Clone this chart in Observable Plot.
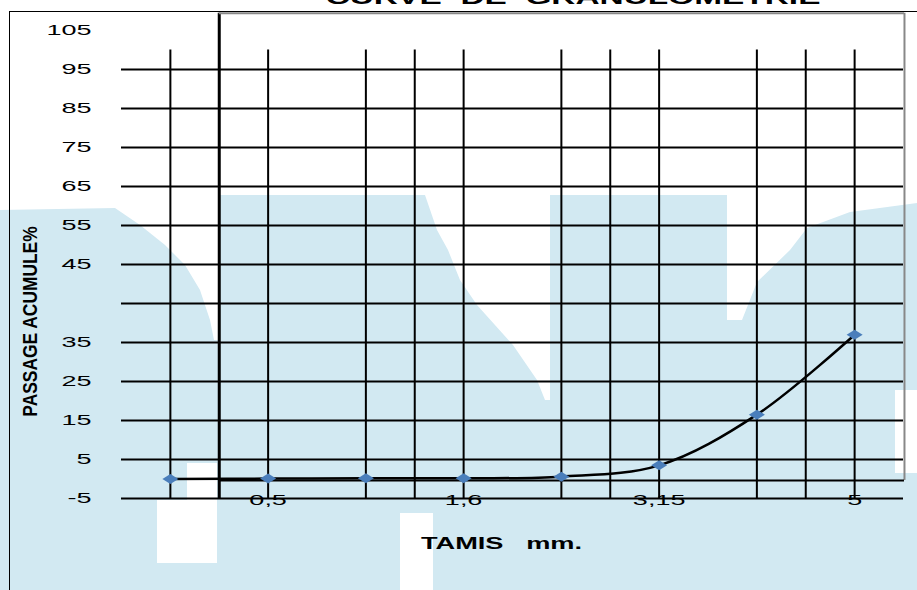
<!DOCTYPE html>
<html>
<head>
<meta charset="utf-8">
<script src="https://cdn.jsdelivr.net/npm/d3@7"></script>
<script src="https://cdn.jsdelivr.net/npm/@observablehq/plot@0.6"></script>
<style>
html, body { margin: 0; padding: 0; background: #fff; overflow: hidden; }
#wrap { position: relative; width: 917px; height: 590px; overflow: hidden; font-family: "Liberation Sans", Arial, sans-serif; }
.bg { position: absolute; left: 0; top: 0; width: 917px; height: 590px; background: #d2e9f2;
  clip-path: polygon(0px 210px, 115px 208px, 140px 225px, 165px 245px, 185px 265px, 200px 290px, 210px 320px, 214px 340px, 220px 340px, 220px 195px, 425px 195px, 437px 230px, 448px 250px, 460px 280px, 477px 305px, 513px 345px, 537px 380px, 545px 400px, 550px 400px, 550px 195px, 727px 195px, 727px 320px, 742px 320px, 757px 282px, 790px 250px, 807px 228px, 850px 212px, 917px 203px, 917px 590px, 0px 590px); }
.hole { position: absolute; background: #fff; }
.frame { position: absolute; left: 9px; top: 11px; width: 940px; height: 620px; border-left: 1.5px solid #000; border-top: 1.5px solid #000; }
#title { position: absolute; left: 573px; top: -13px; font-size: 20px; line-height: 20px; font-weight: bold; white-space: pre; transform: translateX(-50%) scaleX(1.67); color: #000; }
#chart { position: absolute; left: 0; top: 0; }
</style>
</head>
<body>
<div id="wrap">
  <div class="bg"></div>
  <div class="hole" style="left:187px;top:463px;width:30px;height:37px"></div>
  <div class="hole" style="left:157px;top:500px;width:60px;height:63px"></div>
  <div class="hole" style="left:400px;top:513px;width:33px;height:77px"></div>
  <div class="hole" style="left:895px;top:390px;width:22px;height:83px"></div>
  <div class="frame"></div>
  <div id="title"></div>
  <div id="chart"></div>
</div>
<script>
// ---- data ----
const chartTitle = "CURVE  DE  GRANULOMETRIE";
const xAxisTitle = "TAMIS   mm.";
const yAxisTitle = "PASSAGE ACUMULE%";
const sieveIndex = [0, 1, 2, 3, 4, 5, 6, 7];
const passing = [0, 0.1, 0.2, 0.2, 0.6, 3.5, 16.5, 37];
const xTickLabels = ["", "0,5", "", "1,6", "", "3,15", "", "5"];
const yGridValues = [-5, 5, 15, 25, 35, 45, 55, 65, 75, 85, 95, 105];
const yTickPositions = [115, 105, 95, 85, 75, 65, 55, 35, 25, 15, 5, -5];
const yTickLabels = ["105", "95", "85", "75", "65", "55", "45", "35", "25", "15", "5", "-5"];
const xGridMain = [0, 1, 2, 3, 4, 5, 6, 7];
const xGridBetween = [2.5, 4.5, 6.5];
const plotAreaLeft = [0.5];
const plotAreaRight = [7.51];
const plotAreaTop = [119.4];
const plotAreaBottom = [-0.4];

document.getElementById("title").textContent = chartTitle;

const points = sieveIndex.map((x, i) => ({x, y: passing[i]}));

const flatDiamond = {
  draw(context, size) {
    const r = Math.sqrt(size / Math.PI);
    const w = r * 1.6, h = r;
    context.moveTo(-w, 0);
    context.lineTo(0, -h);
    context.lineTo(w, 0);
    context.lineTo(0, h);
    context.closePath();
  }
};

const chart = Plot.plot({
  width: 917,
  height: 590,
  marginLeft: 121,
  marginRight: 14,
  marginTop: 30,
  marginBottom: 92,
  style: {background: "transparent", fontFamily: "Liberation Sans, Arial, sans-serif", color: "#000"},
  x: {type: "linear", domain: [-0.5, 7.5], axis: null},
  y: {type: "linear", domain: [-5, 115], axis: null},
  marks: [
    Plot.ruleY(yGridValues, {x1: -0.5, x2: 7.5, stroke: "#000", strokeWidth: 2}),
    Plot.ruleX([...xGridMain, ...xGridBetween], {y1: -5, y2: 110, stroke: "#000", strokeWidth: 2}),
    Plot.ruleX(plotAreaLeft, {y1: -5, y2: plotAreaTop[0], stroke: "#000", strokeWidth: 3}),
    Plot.ruleY(plotAreaTop, {x1: plotAreaLeft[0], x2: plotAreaRight[0], stroke: "#888", strokeWidth: 2}),
    Plot.ruleX(plotAreaRight, {y1: plotAreaBottom[0], y2: plotAreaTop[0], stroke: "#888", strokeWidth: 2}),
    Plot.ruleY(plotAreaBottom, {x1: plotAreaLeft[0], x2: plotAreaRight[0], stroke: "#000", strokeWidth: 2}),
    Plot.line(points, {x: "x", y: "y", curve: "catmull-rom", stroke: "#000", strokeWidth: 2.5}),
    Plot.dot(points, {x: "x", y: "y", symbol: flatDiamond, r: 5, fill: "#4a7ebb", stroke: "none"}),
    Plot.text(yTickPositions, {y: d => d, text: (d, i) => yTickLabels[i], frameAnchor: "left", textAnchor: "end", lineAnchor: "middle", dx: -30, fontSize: 15, fill: "#000"}),
    Plot.text(sieveIndex, {x: d => d, y: -5, text: (d, i) => xTickLabels[i], lineAnchor: "middle", dy: 2, fontSize: 15, fill: "#000"}),
    Plot.text([yAxisTitle], {frameAnchor: "left", textAnchor: "middle", lineAnchor: "middle", dx: -91, dy: 57, rotate: -90, fontWeight: "bold", fontSize: 20, fill: "#000"}),
    Plot.text([xAxisTitle], {frameAnchor: "bottom", textAnchor: "middle", lineAnchor: "middle", dx: -11, dy: 45, fontWeight: "bold", fontSize: 17, fill: "#000"})
  ]
});

// stretch / condense texts to match the reference's letter shapes
chart.querySelectorAll("text").forEach(t => {
  const s = t.textContent;
  const k = s === yAxisTitle ? 0.87 : s === xAxisTitle ? 1.6 : 1.8;
  const tr = t.getAttribute("transform") || "";
  t.setAttribute("transform", tr + ` scale(${k},1)`);
});

document.getElementById("chart").appendChild(chart);
</script>
</body>
</html>
